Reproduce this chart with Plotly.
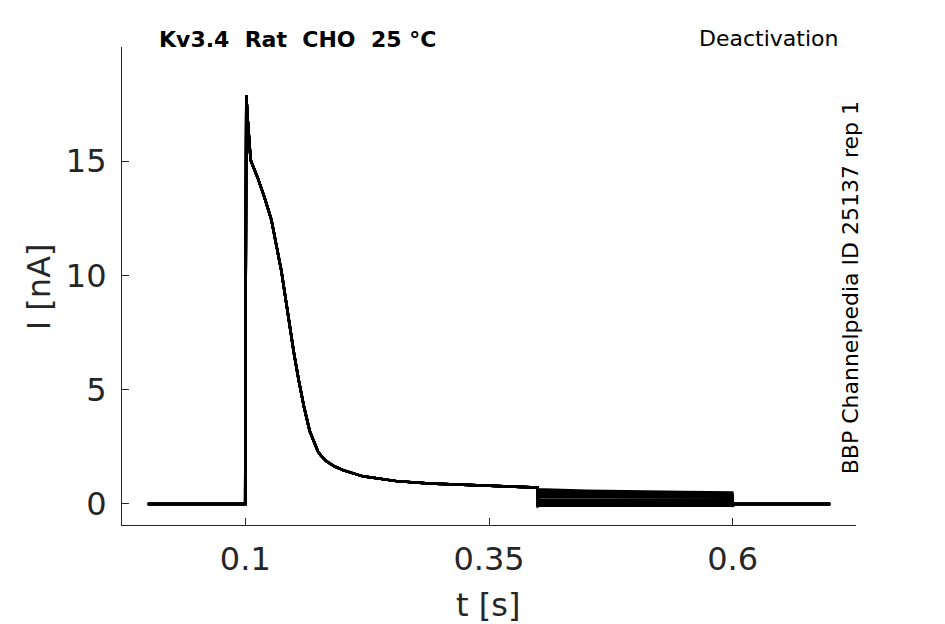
import plotly.graph_objects as go

# ---- data ----
t_act = [0.0, 0.0999, 0.1, 0.1005, 0.101, 0.1025, 0.1045, 0.1055, 0.1129, 0.1198,
         0.1267, 0.1318, 0.137, 0.1414, 0.1455, 0.1499, 0.1547, 0.1601, 0.166,
         0.1713, 0.1745, 0.1775, 0.1833, 0.1915, 0.2002, 0.2207, 0.255, 0.289,
         0.340, 0.3995]
I_act = [0.0, 0.0, 3.3, 17.0, 17.9, 16.8, 15.5, 15.04, 14.25, 13.4,
         12.45, 11.4, 10.2, 8.97, 7.76, 6.6, 5.44, 4.27, 3.2,
         2.6, 2.3, 2.12, 1.87, 1.64, 1.48, 1.21, 1.0, 0.9,
         0.81, 0.72]

tail_t = [0.4, 0.4008, 0.45, 0.5, 0.55, 0.5995]
tail_I = [
    [-0.10, 0.64, 0.58, 0.54, 0.52, 0.50],
    [-0.10, 0.58, 0.53, 0.50, 0.48, 0.46],
    [-0.10, 0.51, 0.47, 0.45, 0.43, 0.42],
    [-0.10, 0.45, 0.42, 0.40, 0.39, 0.38],
    [-0.10, 0.38, 0.36, 0.35, 0.34, 0.33],
    [-0.10, 0.30, 0.29, 0.28, 0.27, 0.27],
    [-0.10, 0.20, 0.19, 0.19, 0.18, 0.18],
    [-0.10, 0.10, 0.10, 0.09, 0.09, 0.09],
    [-0.10, 0.00, 0.00, 0.00, 0.00, 0.00],
    [-0.10, -0.08, -0.08, -0.08, -0.08, -0.08],
]
post_t = [0.6, 0.6008, 0.7]
post_I = [-0.12, 0.0, 0.0]

x_ticks = [0.1, 0.35, 0.6]
x_ticklabels = ["0.1", "0.35", "0.6"]
y_ticks = [0, 5, 10, 15]
y_ticklabels = ["0", "5", "10", "15"]

x_title = "t [s]"
y_title = "I [nA]"
title_text = "Kv3.4  Rat  CHO  25 °C"
protocol_text = "Deactivation"
source_text = "BBP Channelpedia ID 25137 rep 1"

# ---- figure ----
fig = go.Figure()
for tail in tail_I:
    fig.add_trace(go.Scatter(
        x=t_act + tail_t + post_t,
        y=I_act + tail + post_I,
        mode="lines",
        line=dict(color="black", width=2.5),
        showlegend=False,
        hoverinfo="skip",
    ))

axis_color = "#262626"
font_family = "DejaVu Sans"

W, H = 945, 624
L, R, T, B = 122, 89, 47, 98.5
pw, ph = W - L - R, H - T - B


def px(x):
    return (x - L) / pw


def py(y):
    return (H - B - y) / ph


fig.update_layout(
    width=W, height=H,
    margin=dict(l=L, r=R, t=T, b=B, pad=0, autoexpand=False),
    paper_bgcolor="white",
    plot_bgcolor="white",
    font=dict(family=font_family, color=axis_color),
    xaxis=dict(
        range=[-0.0265, 0.7265],
        tickvals=x_ticks, ticktext=x_ticklabels,
        ticks="inside", ticklen=7, tickwidth=1, tickcolor=axis_color,
        showline=True, linecolor=axis_color, linewidth=1.2,
        showgrid=False, zeroline=False, automargin=False,
        tickfont=dict(size=32, family=font_family, color=axis_color),
        ticklabelstandoff=5,
    ),
    yaxis=dict(
        range=[-0.92, 20.0],
        tickvals=y_ticks, ticktext=y_ticklabels,
        ticks="inside", ticklen=7, tickwidth=1, tickcolor=axis_color,
        showline=True, linecolor=axis_color, linewidth=1.2,
        showgrid=False, zeroline=False, automargin=False,
        tickfont=dict(size=32, family=font_family, color=axis_color),
        ticklabelstandoff=8,
    ),
    annotations=[
        dict(text=x_title, xref="paper", yref="paper",
             x=px(487.5), y=py(605.6), xanchor="center", yanchor="middle",
             showarrow=False, font=dict(size=32, family=font_family, color=axis_color)),
        dict(text=y_title, xref="paper", yref="paper",
             x=px(39), y=py(287.5), xanchor="center", yanchor="middle",
             textangle=-90,
             showarrow=False, font=dict(size=32, family=font_family, color=axis_color)),
        dict(text="<b>" + title_text + "</b>", xref="paper", yref="paper",
             x=px(297.5), y=py(39.5), xanchor="center", yanchor="middle",
             showarrow=False, font=dict(size=22, family=font_family, color="black")),
        dict(text=protocol_text, xref="paper", yref="paper",
             x=px(840), y=py(38), xanchor="right", yanchor="middle",
             showarrow=False, font=dict(size=22, family=font_family, color="black")),
        dict(text=source_text, xref="paper", yref="paper",
             x=px(850), y=py(288.5), xanchor="center", yanchor="middle",
             textangle=-90,
             showarrow=False, font=dict(size=22, family=font_family, color="black")),
    ],
)

fig.write_html(
    "out.html",
    config={"displayModeBar": False},
    post_script="document.body.style.margin='0';document.body.style.overflow='hidden';",
)
